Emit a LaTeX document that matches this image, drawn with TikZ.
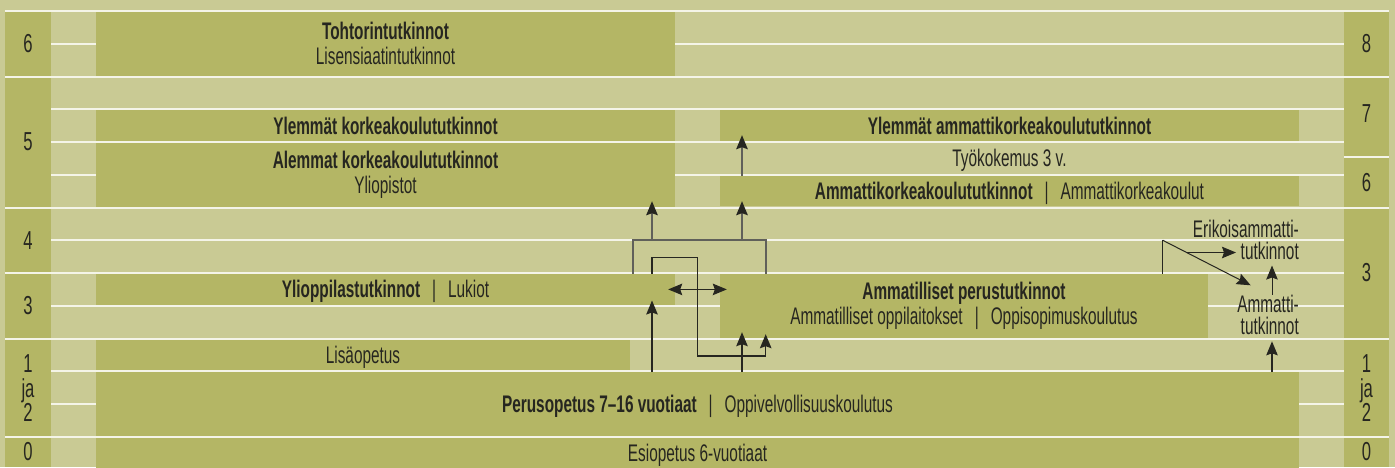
\documentclass[tikz,border=0pt]{standalone}
\usepackage{fontspec}
\setmainfont{Liberation Sans}[FakeStretch=0.64]
\usetikzlibrary{arrows.meta}
\definecolor{pohja}{RGB}{201,202,148}
\definecolor{laatikko}{RGB}{180,182,101}
\definecolor{viiva}{RGB}{244,244,232}
\definecolor{teksti}{RGB}{38,38,32}
\definecolor{harmaa}{RGB}{96,96,90}
\newcommand{\erotin}{\hspace{12pt}|\hspace{12pt}}
\begin{document}
\begin{tikzpicture}[x=1pt, y=-1pt,
		>={Stealth[length=14pt,width=11.5pt,inset=2pt]},
		every node/.style={font=\fontsize{24}{25}\selectfont},
		box/.style={fill=laatikko, inner sep=0pt, align=center, text=teksti},
		yksi/.style={text height=17pt, text depth=0pt},
		lbl/.style={inner sep=0pt, align=center, text=teksti},
		luku/.style={inner sep=0pt, align=center, text=teksti, font=\fontsize{26}{24.6}\selectfont},
		rivi/.style={draw=viiva, line width=2pt},
		arr/.style={draw=teksti, line width=1.3pt, ->},
		garr/.style={draw=harmaa, line width=1.8pt, -{Stealth[length=14pt,width=11.5pt,inset=2pt,color=teksti]}},
		sulku/.style={draw=harmaa, line width=1.8pt}]
			\useasboundingbox (0,0) rectangle (1395,467);
			\fill[pohja] (0,0) rectangle (1395,467);
			\fill[laatikko] (5,11) rectangle (51,467);
			\fill[laatikko] (1344,11) rectangle (1389,467);
			\foreach \y in {43.75,109.25,142,174.75,240.25,305.75,371.25,404}
				\draw[rivi] (51,\y) -- (1344,\y);
			\foreach \y in {11,76.5,207.5,338.5,436.75}
				\draw[rivi] (5,\y) -- (1389,\y);
			\draw[rivi] (5,273) -- (1344,273);
			\draw[rivi] (1344,157) -- (1389,157);

			\node[box, minimum width=579pt, minimum height=63.5pt] (tohtori) at (385.5,43.75) {\textbf{Tohtorintutkinnot}\\Lisensiaatintutkinnot};
			\node[box, yksi, minimum width=579pt, minimum height=30.75pt] (ylkk) at (385.5,125.6) {\textbf{Ylemmät korkeakoulututkinnot}};
			\node[box, minimum width=579pt, minimum height=63.5pt] (alkk) at (385.5,174.75) {\textbf{Alemmat korkeakoulututkinnot}\\Yliopistot};
			\node[box, yksi, minimum width=579pt, minimum height=30.75pt] (ylamk) at (1009.5,125.6) {\textbf{Ylemmät ammattikorkeakoulututkinnot}};
			\node[lbl, yksi] (tyokok) at (1009.5,158.4) {Työkokemus 3 v.};
			\node[box, yksi, minimum width=579pt, minimum height=30.75pt] (amk) at (1009.5,191.1) {\textbf{Ammattikorkeakoulututkinnot}\erotin Ammattikorkeakoulut};
			\node[box, yksi, minimum width=579pt, minimum height=30.75pt] (ylio) at (385.5,289.4) {\textbf{Ylioppilastutkinnot}\erotin Lukiot};
			\node[box, minimum width=488pt, minimum height=63.5pt] (ammper) at (964,305.75) {\textbf{Ammatilliset perustutkinnot}\\Ammatilliset oppilaitokset\erotin Oppisopimuskoulutus};
			\node[box, yksi, minimum width=534pt, minimum height=30.75pt] (lisa) at (363,354.9) {Lisäopetus};
			\node[box, yksi, minimum width=1203pt, minimum height=63.5pt] (perus) at (697.5,404) {\textbf{Perusopetus 7–16 vuotiaat}\erotin Oppivelvollisuuskoulutus};
			\node[box, yksi, minimum width=1203pt, minimum height=30.75pt] (esi) at (697.5,453.1) {Esiopetus 6-vuotiaat};
			\node[lbl, anchor=north east, align=right, font=\fontsize{24}{22}\selectfont] (erik) at (1299,219.5) {Erikoisammatti-\\tutkinnot};
			\node[lbl, anchor=north east, align=right, font=\fontsize{24}{22.3}\selectfont] (ammtut) at (1299,294.5) {Ammatti-\\tutkinnot};

			\node[luku] (v6) at (28,43.75) {6};
			\node[luku] (v5) at (28,142) {5};
			\node[luku] (v4) at (28,240.25) {4};
			\node[luku] (v3) at (28,305.75) {3};
			\node[luku] (v12) at (28,388.3) {1\\ja\\2};
			\node[luku] (v0) at (28,452) {0};
			\node[luku] (o8) at (1366.5,43.5) {8};
			\node[luku] (o7) at (1366.5,113.3) {7};
			\node[luku] (o6) at (1366.5,183) {6};
			\node[luku] (o3) at (1366.5,272.8) {3};
			\node[luku] (o12) at (1366.5,388.3) {1\\ja\\2};
			\node[luku] (o0) at (1366.5,452) {0};

			\coordinate (xa) at (652,0);
			\coordinate (xb) at (742,0);
			\coordinate (xc) at (1272,0);
			\coordinate (kl) at (633,240.25);
			\coordinate (kr) at (766,240.25);
			\coordinate (p1) at (697.7,257.3);
			\coordinate (p2) at (765.7,356);
			\coordinate (haara) at (1162.7,240.25);
			\coordinate (k3) at (1250.7,285.3);
			\coordinate (k5) at (1186,252.5);
			\coordinate (k4) at (1236,252.5);

			\draw[sulku] (ylio.north -| kl) -- (kl) -- (kr) -- (ammper.north -| kr);
			\draw[garr, shorten >=-5.5pt] (kl -| xa) -- (alkk.south -| xa);
			\draw[garr, shorten >=-5.5pt] (kl -| xb) -- (amk.south -| xb);
			\draw[garr, shorten >=-6pt] (amk.north -| xb) -- (ylamk.south -| xb);
			\draw[arr, shorten >=-4.5pt] (perus.north -| xa) -- (ylio.south -| xa);
			\draw[arr, <->, shorten >=-7pt, shorten <=-7pt] (ylio.east) -- (ylio.east -| ammper.west);
			\draw[arr, shorten >=-3.5pt] (ylio.north -| xa) |- (p1) |- (p2) -- (ammper.south -| p2);
			\draw[arr, shorten >=-5.5pt] (perus.north -| xb) -- (ammper.south -| xb);

			\draw[teksti, line width=1.3pt] (ammper.north -| haara) -- (haara);
			\draw[arr, line width=1pt] (haara) -- (k3);
			\draw[arr, line width=1pt] (k5) -- (k4);
			\draw[arr, line width=1pt, shorten >=6pt] (ammtut.north -| xc) -- (erik.south -| xc);
			\draw[arr, shorten >=6.5pt] (perus.north -| xc) -- (ammtut.south -| xc);
		\end{tikzpicture}
\end{document}
